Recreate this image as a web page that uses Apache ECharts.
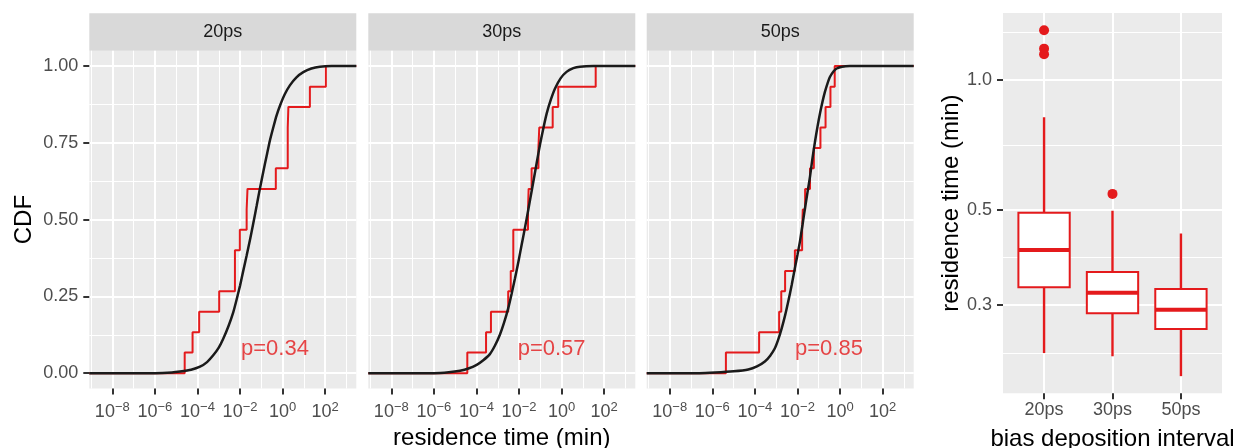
<!DOCTYPE html>
<html>
<head>
<meta charset="utf-8">
<script src="https://cdn.jsdelivr.net/npm/echarts@6/dist/echarts.min.js"></script>
<style>
html, body { margin: 0; padding: 0; background: #fff; }
#main { width: 1233px; height: 448px; }
</style>
</head>
<body>
<div id="main"></div>
<script>
/*------------------------------------- data -------------------------------------*/
var panels = ['20ps', '30ps', '50ps'];
var pValues = ['0.34', '0.57', '0.85'];
var pX = [-0.36, -0.47, -0.52];   // log10(min) position of the p label
var pY = [0.08, 0.08, 0.08];

// x axis works in log10(residence time)
var X_MIN = -9.08, X_MAX = 3.46;
var xMajor = [-8, -6, -4, -2, 0, 2];
var xMinor = [-9, -7, -5, -3, -1, 1, 3];
var yMajor = [0, 0.25, 0.5, 0.75, 1];
var yMinor = [0.125, 0.375, 0.625, 0.875];

// empirical CDF jumps (log10 time, cdf after the jump)
var ecdfX20 = [-4.60, -4.23, -3.92, -2.98, -2.24, -2.01, -1.69, -1.65, -0.32, 0.24, 0.27, 1.28, 2.03];
var ecdfY20 = [0.067, 0.133, 0.2, 0.267, 0.4, 0.467, 0.533, 0.6, 0.667, 0.8, 0.867, 0.933, 1];
var ecdfX30 = [-4.43, -3.55, -3.32, -2.51, -2.39, -2.27, -1.58, -1.55, -1.41, -1.09, -1.05, -0.42, -0.16, 1.60];
var ecdfY30 = [0.067, 0.133, 0.2, 0.267, 0.333, 0.467, 0.533, 0.6, 0.667, 0.733, 0.8, 0.867, 0.933, 1];
var ecdfX50 = [-5.36, -3.80, -2.86, -2.76, -2.58, -2.12, -1.78, -1.75, -1.64, -1.41, -1.23, -0.92, -0.68, -0.45, -0.25];
var ecdfY50 = [0.067, 0.133, 0.2, 0.267, 0.333, 0.4, 0.467, 0.533, 0.6, 0.667, 0.733, 0.8, 0.867, 0.933, 1];

// fitted CDF
var fitX20 = [-9.08, -6.0, -5.2, -4.82, -4.3, -3.88, -3.55, -3.26, -3.0, -2.79, -2.55, -2.32, -2.16, -2.0, -1.85, -1.69,
    -1.53, -1.38, -1.22, -1.07, -0.91, -0.75, -0.6, -0.44, -0.29, -0.13, 0.1, 0.34, 0.65, 0.97, 1.35, 1.75, 2.3, 3.46];
var fitY20 = [0, 0, 0.002, 0.005, 0.011, 0.021, 0.036, 0.058, 0.083, 0.112, 0.152, 0.198, 0.24, 0.285, 0.333, 0.383,
    0.435, 0.487, 0.545, 0.6, 0.655, 0.708, 0.757, 0.8, 0.838, 0.87, 0.908, 0.937, 0.963, 0.98, 0.992, 0.998, 1, 1];
var fitX30 = [-9.08, -6.0, -5.3, -4.77, -4.38, -3.99, -3.68, -3.37, -3.13, -2.9, -2.7, -2.51, -2.35, -2.19, -2.03, -1.88,
    -1.76, -1.64, -1.48, -1.33, -1.17, -1.02, -0.86, -0.7, -0.5, -0.31, -0.05, 0.23, 0.55, 0.86, 1.5, 3.46];
var fitY30 = [0, 0, 0.003, 0.008, 0.015, 0.027, 0.042, 0.062, 0.09, 0.125, 0.165, 0.211, 0.258, 0.309, 0.363, 0.417,
    0.46, 0.504, 0.565, 0.623, 0.685, 0.743, 0.797, 0.846, 0.892, 0.927, 0.96, 0.981, 0.993, 0.998, 1, 1];
var fitX50 = [-9.08, -6.6, -5.87, -5.0, -4.31, -3.9, -3.53, -3.28, -3.06, -2.9, -2.74, -2.58, -2.43, -2.27, -2.12, -2.0,
    -1.88, -1.76, -1.65, -1.53, -1.41, -1.3, -1.18, -1.06, -0.94, -0.82, -0.71, -0.59, -0.47, -0.3, -0.16, 0.1, 0.46, 3.46];
var fitY50 = [0, 0, 0.002, 0.006, 0.012, 0.022, 0.038, 0.057, 0.081, 0.11, 0.146, 0.188, 0.234, 0.287, 0.342, 0.385,
    0.43, 0.484, 0.535, 0.588, 0.64, 0.697, 0.752, 0.802, 0.846, 0.885, 0.916, 0.943, 0.965, 0.983, 0.992, 0.998, 1, 1];

// boxplot (residence time, min)
var boxCats = ['20ps', '30ps', '50ps'];
var boxLower = [0.232, 0.228, 0.205];
var boxQ1 = [0.330, 0.287, 0.264];
var boxMedian = [0.403, 0.3205, 0.2925];
var boxQ3 = [0.492, 0.358, 0.327];
var boxUpper = [0.820, 0.497, 0.440];
var outCat = ['20ps', '20ps', '20ps', '30ps'];
var outVal = [1.307, 1.184, 1.149, 0.544];
var boxTicks = [0.3, 0.5, 1.0];
var boxMinor = [0.232, 0.388, 0.707, 1.29];
var BOX_MIN = 0.187, BOX_MAX = 1.433;

/*------------------------------------- style -------------------------------------*/
var FONT = '"Liberation Sans", Arial, Helvetica, sans-serif';
var RED = '#E41A1C';
var PANEL_BG = '#EBEBEB';
var AXIS_TXT = '#4D4D4D';

var panelLeft = [89.3, 368.3, 646.7];
var PANEL_TOP = 50.7, PANEL_W = 267, PANEL_H = 337.8;

function zip(xs, ys) {
    var out = [];
    for (var k = 0; k < xs.length; k++) out.push([xs[k], ys[k]]);
    return out;
}

function expLabel(v) {
    var e = Math.round(v);
    return '{b|10}{s|' + (e < 0 ? '\u2212' : '') + Math.abs(e) + '}';
}

function tickStyle(show) {
    return { show: show, length: 6, lineStyle: { color: '#333333', width: 2 } };
}

function buildOption() {
    var grids = [], xAxes = [], yAxes = [], series = [], graphics = [];

    for (var i = 0; i < 3; i++) {
        grids.push({
            left: panelLeft[i], top: PANEL_TOP, width: PANEL_W, height: PANEL_H,
            outerBoundsMode: 'none', containLabel: false,
            show: true, backgroundColor: PANEL_BG, borderWidth: 0
        });
        // major x
        var xa = {
            gridIndex: i, type: 'value', min: X_MIN, max: X_MAX,
            axisLine: { show: false, onZero: false },
            axisTick: tickStyle(true),
            axisLabel: {
                formatter: expLabel, margin: 12, color: AXIS_TXT,
                rich: {
                    b: { fontSize: 18, lineHeight: 24, fontFamily: FONT, color: AXIS_TXT },
                    s: { fontSize: 13, lineHeight: 13, verticalAlign: 'top', fontFamily: FONT, color: AXIS_TXT }
                }
            },
            splitLine: { show: true, lineStyle: { color: '#fff', width: 2 } }
        };
        xa.axisTick.customValues = xMajor;
        xa.axisLabel.customValues = xMajor;
        if (i === 1) {
            xa.name = 'residence time (min)';
            xa.nameLocation = 'middle';
            xa.nameGap = 38;
            xa.nameTextStyle = { fontSize: 24, color: '#000', fontFamily: FONT };
        }
        xAxes.push(xa);
        // minor x
        xAxes.push({
            gridIndex: i, type: 'value', min: X_MIN, max: X_MAX, position: 'bottom',
            axisLine: { show: false, onZero: false },
            axisTick: { show: false, customValues: xMinor },
            axisLabel: { show: false },
            splitLine: { show: true, lineStyle: { color: '#fff', width: 1 } }
        });
        // major y
        var ya = {
            gridIndex: i, type: 'value', min: -0.05, max: 1.05,
            axisLine: { show: false, onZero: false },
            axisTick: tickStyle(i === 0),
            axisLabel: {
                show: i === 0, margin: 11, color: AXIS_TXT, fontSize: 18, fontFamily: FONT,
                formatter: function (v) { return v.toFixed(2); }
            },
            splitLine: { show: true, lineStyle: { color: '#fff', width: 2 } }
        };
        ya.axisTick.customValues = yMajor;
        ya.axisLabel.customValues = yMajor;
        if (i === 0) {
            ya.name = 'CDF';
            ya.nameLocation = 'middle';
            ya.nameGap = 53;
            ya.nameTextStyle = { fontSize: 24, color: '#000', fontFamily: FONT };
        }
        yAxes.push(ya);
        // minor y
        yAxes.push({
            gridIndex: i, type: 'value', min: -0.05, max: 1.05, position: 'left',
            axisLine: { show: false, onZero: false },
            axisTick: { show: false, customValues: yMinor },
            axisLabel: { show: false },
            splitLine: { show: true, lineStyle: { color: '#fff', width: 1 } }
        });

        var ex = [ecdfX20, ecdfX30, ecdfX50][i];
        var ey = [ecdfY20, ecdfY30, ecdfY50][i];
        var fx = [fitX20, fitX30, fitX50][i];
        var fy = [fitY20, fitY30, fitY50][i];
        var stepData = [[X_MIN, 0]].concat(zip(ex, ey)).concat([[X_MAX, 1]]);

        series.push({
            name: 'ecdf ' + panels[i], type: 'line', step: 'end',
            xAxisIndex: 2 * i, yAxisIndex: 2 * i,
            data: stepData, showSymbol: false, silent: true,
            lineStyle: { color: RED, width: 2 }, z: 2
        });
        series.push({
            name: 'fit ' + panels[i], type: 'line', smooth: 0.2,
            xAxisIndex: 2 * i, yAxisIndex: 2 * i,
            data: zip(fx, fy), showSymbol: false, silent: true,
            lineStyle: { color: '#1A1A1A', width: 2.5 }, z: 3
        });
        series.push({
            name: 'p ' + panels[i], type: 'scatter',
            xAxisIndex: 2 * i, yAxisIndex: 2 * i,
            data: [[pX[i], pY[i]]], symbolSize: 1, silent: true,
            itemStyle: { color: 'rgba(0,0,0,0)' },
            label: {
                show: true, position: 'inside', formatter: 'p=' + pValues[i],
                color: RED, fontSize: 22, fontFamily: FONT
            }, z: 4
        });

        // facet strip
        graphics.push({
            type: 'rect', left: panelLeft[i], top: 13.3, silent: true,
            shape: { width: PANEL_W, height: PANEL_TOP - 13.3 },
            style: { fill: '#D9D9D9' }
        });
        graphics.push({
            type: 'text', silent: true,
            x: panelLeft[i] + PANEL_W / 2, y: (13.3 + PANEL_TOP) / 2,
            style: {
                text: panels[i], fill: '#1A1A1A', font: '18px ' + FONT,
                textAlign: 'center', textVerticalAlign: 'middle'
            }
        });
    }

    /*------------------------------- boxplot panel -------------------------------*/
    grids.push({
        left: 1003, top: 13, width: 219, height: 380.3,
        outerBoundsMode: 'none', containLabel: false,
        show: true, backgroundColor: PANEL_BG, borderWidth: 0
    });
    var bx = {
        gridIndex: 3, type: 'value', min: 0.4, max: 3.6,
        axisLine: { show: false, onZero: false },
        axisTick: tickStyle(true),
        axisLabel: {
            margin: 8, color: AXIS_TXT, fontSize: 18, fontFamily: FONT,
            formatter: function (v) { return boxCats[Math.round(v) - 1]; }
        },
        splitLine: { show: true, lineStyle: { color: '#fff', width: 2 } },
        name: 'bias deposition interval', nameLocation: 'middle', nameGap: 34,
        nameTextStyle: { fontSize: 24, color: '#000', fontFamily: FONT }
    };
    bx.axisTick.customValues = [1, 2, 3];
    bx.axisLabel.customValues = [1, 2, 3];
    xAxes.push(bx);

    var by = {
        gridIndex: 3, type: 'value', min: Math.log10(BOX_MIN), max: Math.log10(BOX_MAX),
        axisLine: { show: false, onZero: false },
        axisTick: tickStyle(true),
        axisLabel: {
            margin: 11, color: AXIS_TXT, fontSize: 18, fontFamily: FONT,
            formatter: function (v) { return Math.pow(10, v).toFixed(1); }
        },
        splitLine: { show: true, lineStyle: { color: '#fff', width: 2 } },
        name: 'residence time (min)', nameLocation: 'middle', nameGap: 40,
        nameTextStyle: { fontSize: 24, color: '#000', fontFamily: FONT }
    };
    by.axisTick.customValues = boxTicks.map(Math.log10);
    by.axisLabel.customValues = boxTicks.map(Math.log10);
    yAxes.push(by);
    yAxes.push({
        gridIndex: 3, type: 'value', min: Math.log10(BOX_MIN), max: Math.log10(BOX_MAX), position: 'left',
        axisLine: { show: false, onZero: false },
        axisTick: { show: false, customValues: boxMinor.map(Math.log10) },
        axisLabel: { show: false },
        splitLine: { show: true, lineStyle: { color: '#fff', width: 1 } }
    });

    var boxData = [];
    for (var b = 0; b < boxCats.length; b++) {
        boxData.push([b + 1, Math.log10(boxLower[b]), Math.log10(boxQ1[b]),
            Math.log10(boxMedian[b]), Math.log10(boxQ3[b]), Math.log10(boxUpper[b])]);
    }
    series.push({
        name: 'box', type: 'custom', xAxisIndex: 6, yAxisIndex: 6, silent: true,
        data: boxData, z: 3,
        renderItem: function (params, api) {
            var x = api.value(0);
            var lo = api.coord([x, api.value(1)]);
            var q1 = api.coord([x, api.value(2)]);
            var md = api.coord([x, api.value(3)]);
            var q3 = api.coord([x, api.value(4)]);
            var hi = api.coord([x, api.value(5)]);
            var half = api.size([0.75, 0])[0] / 2;
            var cx = q1[0];
            return {
                type: 'group',
                children: [
                    { type: 'line', shape: { x1: cx, y1: lo[1], x2: cx, y2: q1[1] }, style: { stroke: RED, lineWidth: 2.4 } },
                    { type: 'line', shape: { x1: cx, y1: q3[1], x2: cx, y2: hi[1] }, style: { stroke: RED, lineWidth: 2.4 } },
                    { type: 'rect', shape: { x: cx - half, y: q3[1], width: 2 * half, height: q1[1] - q3[1] },
                      style: { fill: '#fff', stroke: RED, lineWidth: 2 } },
                    { type: 'line', shape: { x1: cx - half, y1: md[1], x2: cx + half, y2: md[1] }, style: { stroke: RED, lineWidth: 4 } }
                ]
            };
        }
    });
    var outData = [];
    for (var o = 0; o < outVal.length; o++) {
        outData.push([boxCats.indexOf(outCat[o]) + 1, Math.log10(outVal[o])]);
    }
    series.push({
        name: 'outliers', type: 'scatter', xAxisIndex: 6, yAxisIndex: 6, silent: true,
        data: outData, symbolSize: 10, itemStyle: { color: RED, opacity: 1 }, z: 4
    });

    return {
        animation: false,
        backgroundColor: '#fff',
        textStyle: { fontFamily: FONT },
        grid: grids,
        xAxis: xAxes,
        yAxis: yAxes,
        series: series,
        graphic: graphics
    };
}

var chart = echarts.init(document.getElementById('main'), null, { renderer: 'canvas' });
chart.setOption(buildOption());
</script>
</body>
</html>
